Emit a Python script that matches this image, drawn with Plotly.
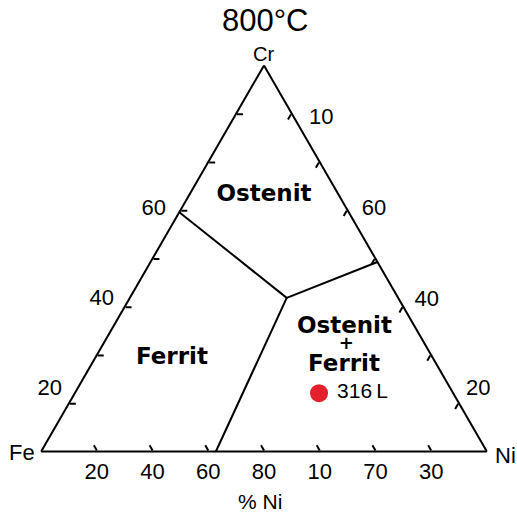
import plotly.graph_objects as go

# Phase boundaries (fractions of Cr, Fe, Ni)
boundary_cr = [0.620, 0.398, None, 0.398, 0.491]
boundary_fe = [0.380, 0.250, None, 0.250, 0.0]
boundary_ni = [0.0, 0.352, None, 0.352, 0.509]
seg2_cr = [0.398, 0.0]
seg2_fe = [0.250, 0.608]
seg2_ni = [0.352, 0.392]

# Alloy marker
alloy_name = ["\u00a0316\u2009L"]
alloy_cr = [0.151]
alloy_fe = [0.301]
alloy_ni = [0.548]

# Region labels
region_text = ["Ostenit", "Ferrit", "Ostenit", "+", "Ferrit"]
region_cr = [0.664, 0.241, 0.323, 0.277, 0.223]
region_fe = [0.168, 0.586, 0.158, 0.177, 0.209]
region_ni = [0.168, 0.173, 0.519, 0.546, 0.568]

# Tick positions and the bottom (% Ni) tick labels
tick_pos = [0.125, 0.25, 0.375, 0.5, 0.625, 0.75, 0.875]
fe_labels = ["30", "70", "10", "80", "60", "40", "20"]

# Labels along the Fe–Cr side (anchored on the edge, drawn to its left)
left_text = ["20", "40", "60"]
left_cr = [0.160, 0.393, 0.626]
left_fe = [0.840, 0.607, 0.374]
left_ni = [0.0, 0.0, 0.0]

# Labels along the Ni–Cr side (anchored on the edge, drawn to its right)
right_text = ["10", "60", "40", "20"]
right_cr = [0.864, 0.627, 0.391, 0.160]
right_fe = [0.0, 0.0, 0.0, 0.0]
right_ni = [0.136, 0.373, 0.609, 0.840]

NUM = "Liberation Sans, Arial"
BOLD = "DejaVu Sans"

fig = go.Figure()

for a_, b_, c_ in [(boundary_cr, boundary_fe, boundary_ni), (seg2_cr, seg2_fe, seg2_ni)]:
    fig.add_trace(go.Scatterternary(
        a=a_, b=b_, c=c_, mode="lines",
        line=dict(color="black", width=2),
        hoverinfo="skip", showlegend=False))

fig.add_trace(go.Scatterternary(
    a=region_cr, b=region_fe, c=region_ni, text=region_text,
    mode="text",
    textfont=dict(family=BOLD, size=[23, 23, 23, 18, 23], color="black", weight="bold"),
    hoverinfo="skip", showlegend=False))

for a_, b_, c_, t_, pos in [(left_cr, left_fe, left_ni, left_text, "middle left"),
                            (right_cr, right_fe, right_ni, right_text, "middle right")]:
    fig.add_trace(go.Scatterternary(
        a=a_, b=b_, c=c_, text=t_, mode="markers+text", textposition=pos,
        cliponaxis=False, marker=dict(size=22, opacity=0),
        textfont=dict(family=NUM, size=22, color="black"),
        hoverinfo="skip", showlegend=False))

fig.add_trace(go.Scatterternary(
    a=alloy_cr, b=alloy_fe, c=alloy_ni, text=alloy_name,
    mode="markers+text", textposition="middle right", cliponaxis=False,
    marker=dict(color="#e3202b", size=18),
    textfont=dict(family=NUM, size=21, color="black"),
    showlegend=False))

axis_common = dict(
    tickmode="array", tickvals=tick_pos, ticks="inside", ticklen=6,
    tickwidth=1.5, tickcolor="black", showgrid=False, showline=True,
    linecolor="black", linewidth=2, min=0, title=dict(text=""),
    tickfont=dict(family=NUM, size=22, color="black"),
)

fig.update_layout(
    width=517, height=513,
    margin=dict(l=0, r=0, t=0, b=0),
    paper_bgcolor="white",
    ternary=dict(
        sum=1,
        domain=dict(x=[41 / 517, 487 / 517], y=[61.5 / 513, 447.5 / 513]),
        bgcolor="white",
        aaxis=dict(axis_common, showticklabels=False),
        baxis=dict(axis_common, ticktext=fe_labels),
        caxis=dict(axis_common, showticklabels=False),
    ),
)

labels = [
    ("800°C", 0.514, 0.960, 31),
    ("Cr", 0.510, 0.894, 20),
    ("Fe", 0.043, 0.117, 22),
    ("Ni", 0.977, 0.113, 22),
    ("% Ni", 0.503, 0.023, 21),
]
for text, x, y, size in labels:
    fig.add_annotation(text=text, x=x, y=y, xref="paper", yref="paper",
                       xanchor="center", yanchor="middle", showarrow=False,
                       font=dict(family=NUM, size=size, color="black"))

fig.write_html("out.html")
